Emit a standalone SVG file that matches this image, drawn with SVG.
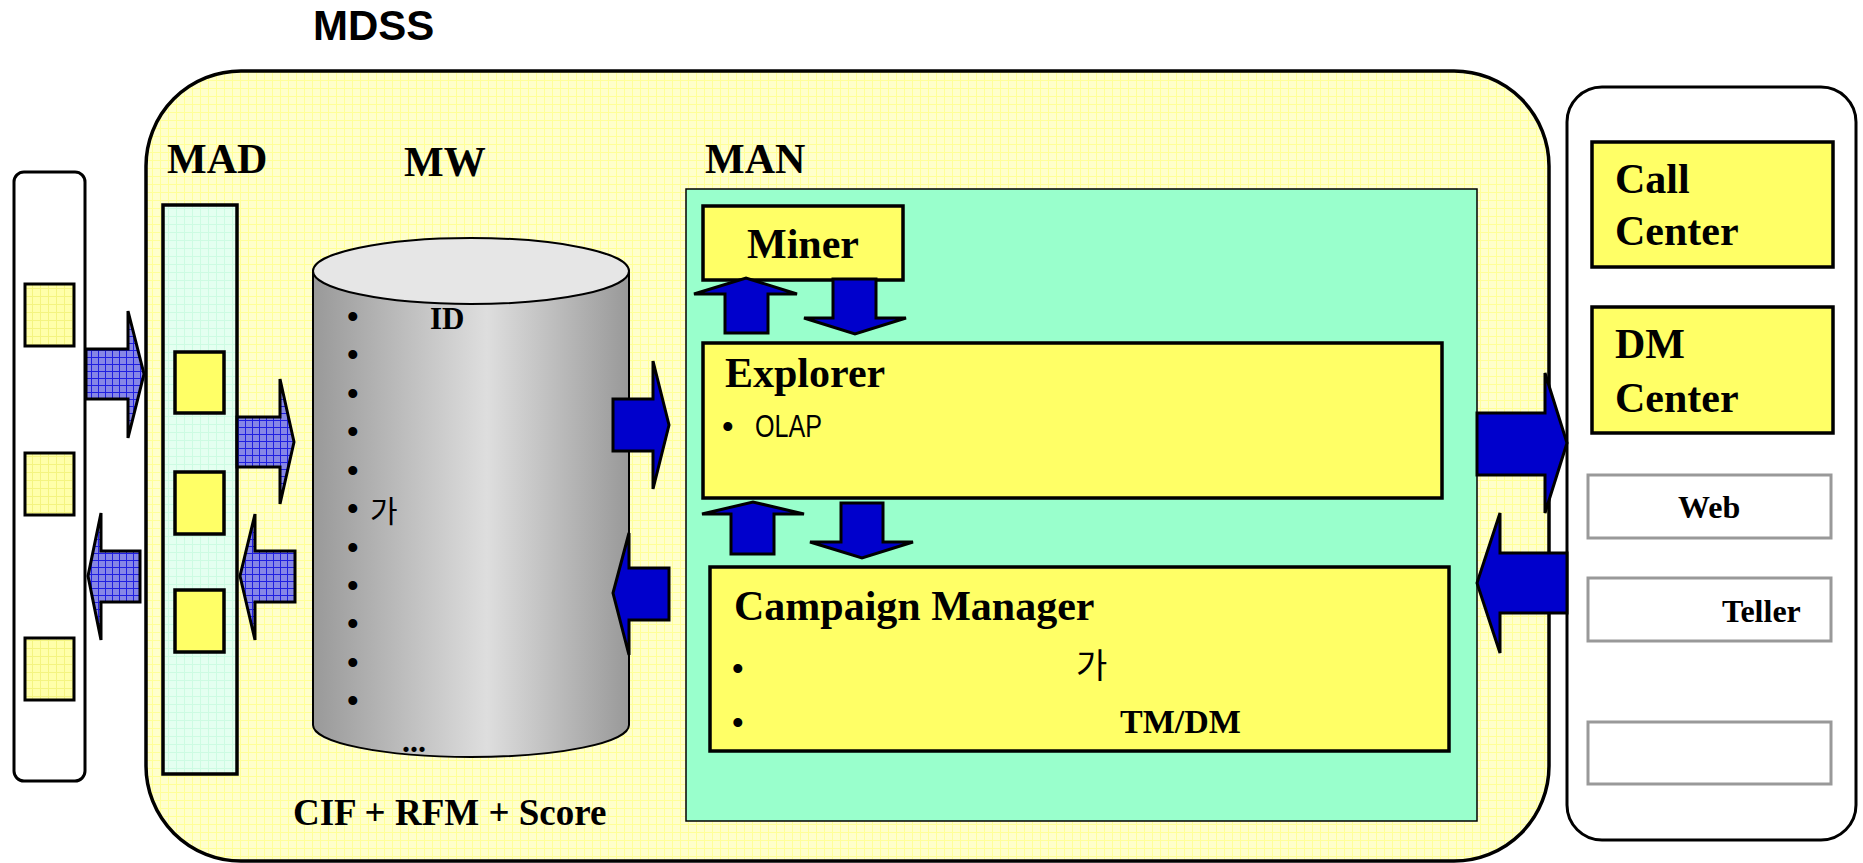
<svg xmlns="http://www.w3.org/2000/svg" width="1863" height="863" viewBox="0 0 1863 863">
  <style>
    .title { font-family: "Liberation Sans", Arial, sans-serif; font-weight: bold; fill: #000; }
    .lbl { font-family: "Liberation Serif", "Times New Roman", serif; font-weight: bold; fill: #000; }
    .kr { font-family: "Liberation Sans", "Noto Sans CJK KR", sans-serif; fill: #000; }
    .bul { font-family: "Liberation Sans", Arial, sans-serif; fill: #000; font-size: 33px; }
    .box { fill: #ffff66; stroke: #000; stroke-width: 3.5; }
    .slot { fill: #fff; stroke: #999; stroke-width: 3; }
    .blue { fill: #0000cc; stroke: #000; stroke-width: 3; stroke-linejoin: miter; }
    .hatch { fill: url(#hatchBlue); stroke: #000; stroke-width: 3; }
  </style>
  <defs>
    <pattern id="gridYellow" width="8" height="8" patternUnits="userSpaceOnUse">
      <rect width="8" height="8" fill="#ffffcc"/>
      <path d="M0 0.5H8M0.5 0V8" stroke="#ffff99" stroke-width="1"/>
    </pattern>
    <pattern id="gridMint" width="8" height="8" patternUnits="userSpaceOnUse">
      <rect width="8" height="8" fill="#e4fff0"/>
      <path d="M0 0.5H8M0.5 0V8" stroke="#cdfbe2" stroke-width="1"/>
    </pattern>
    <pattern id="gridPale" width="8" height="8" patternUnits="userSpaceOnUse">
      <rect width="8" height="8" fill="#ffffaa"/>
      <path d="M0 0.5H8M0.5 0V8" stroke="#f4f480" stroke-width="1"/>
    </pattern>
    <pattern id="hatchBlue" width="7" height="7" patternUnits="userSpaceOnUse">
      <rect width="7" height="7" fill="#8686e6"/>
      <path d="M0 0.5H7M0.5 0V7" stroke="#1f1fe0" stroke-width="1"/>
    </pattern>
    <linearGradient id="cylShade" x1="0" y1="0" x2="1" y2="0">
      <stop offset="0" stop-color="#999999"/>
      <stop offset="0.55" stop-color="#dedede"/>
      <stop offset="1" stop-color="#999999"/>
    </linearGradient>
  </defs>

  <rect width="1863" height="863" fill="#fff"/>

  <text class="title" x="313" y="40" font-size="42">MDSS</text>

  <!-- MDSS frame -->
  <g id="mdss">
    <rect x="146" y="71" width="1403" height="790" rx="95" ry="95" fill="url(#gridYellow)" stroke="#000" stroke-width="3.5"/>
    <text class="lbl" x="167" y="173" font-size="42">MAD</text>
    <text class="lbl" x="404" y="176" font-size="42">MW</text>
    <text class="lbl" x="705" y="173" font-size="42">MAN</text>
    <text class="lbl" x="293" y="825" font-size="37">CIF + RFM + Score</text>
  </g>

  <!-- source systems (left) -->
  <g id="sources">
    <rect x="14" y="172" width="71" height="609" rx="10" ry="10" fill="#fff" stroke="#000" stroke-width="3"/>
    <rect x="25" y="284" width="49" height="62" fill="url(#gridPale)" stroke="#000" stroke-width="3"/>
    <rect x="25" y="453" width="49" height="62" fill="url(#gridPale)" stroke="#000" stroke-width="3"/>
    <rect x="25" y="638" width="49" height="62" fill="url(#gridPale)" stroke="#000" stroke-width="3"/>
  </g>

  <!-- MAD column -->
  <g id="mad">
    <rect x="163" y="205" width="74" height="569" fill="url(#gridMint)" stroke="#000" stroke-width="3.5"/>
    <rect x="175" y="352" width="49" height="61" class="box" stroke-width="3"/>
    <rect x="175" y="472" width="49" height="62" class="box" stroke-width="3"/>
    <rect x="175" y="590" width="49" height="62" class="box" stroke-width="3"/>
  </g>

  <!-- MW warehouse cylinder -->
  <g id="mw">
    <path d="M313 271 V725 A158 32 0 0 0 629 725 V271 Z" fill="url(#cylShade)" stroke="#000" stroke-width="2"/>
    <ellipse cx="471" cy="271" rx="158" ry="33" fill="#e6e6e6" stroke="#000" stroke-width="2"/>
    <text class="lbl" x="430" y="329" font-size="31">ID</text>
    <text class="bul" x="347" y="328">•</text>
    <text class="bul" x="347" y="366">•</text>
    <text class="bul" x="347" y="405">•</text>
    <text class="bul" x="347" y="443">•</text>
    <text class="bul" x="347" y="482">•</text>
    <text class="bul" x="347" y="520">•</text>
    <text class="kr" x="370" y="522" font-size="30">가</text>
    <text class="bul" x="347" y="559">•</text>
    <text class="bul" x="347" y="597">•</text>
    <text class="bul" x="347" y="635">•</text>
    <text class="bul" x="347" y="674">•</text>
    <text class="bul" x="347" y="712">•</text>
    <text class="lbl" x="402" y="752" font-size="32">...</text>
  </g>

  <!-- MAN analysis area -->
  <g id="man">
    <rect x="686" y="189" width="791" height="632" fill="#99ffcc" stroke="#000" stroke-width="1.5"/>
  </g>

  <g id="miner">
    <rect x="703" y="206" width="200" height="74" class="box"/>
    <text class="lbl" x="747" y="258" font-size="42">Miner</text>
  </g>

  <g id="explorer">
    <rect x="703" y="343" width="739" height="155" class="box"/>
    <text class="lbl" x="725" y="387" font-size="42">Explorer</text>
    <text class="bul" x="722" y="438">•</text>
    <text class="kr" x="755" y="437" font-size="32" textLength="67" lengthAdjust="spacingAndGlyphs">OLAP</text>
  </g>

  <g id="campaign">
    <rect x="710" y="567" width="739" height="184" class="box"/>
    <text class="lbl" x="734" y="620" font-size="42">Campaign Manager</text>
    <text class="bul" x="732" y="680">•</text>
    <text class="kr" x="1076" y="678" font-size="34">가</text>
    <text class="bul" x="732" y="734">•</text>
    <text class="lbl" x="1120" y="733" font-size="34">TM/DM</text>
  </g>

  <!-- channels (right) -->
  <g id="channels">
    <rect x="1567" y="87" width="289" height="753" rx="35" ry="35" fill="#fff" stroke="#000" stroke-width="3"/>
  </g>
  <g id="callcenter">
    <rect x="1592" y="142" width="241" height="125" class="box"/>
    <text class="lbl" x="1615" y="193" font-size="42">Call</text>
    <text class="lbl" x="1615" y="245" font-size="42">Center</text>
  </g>
  <g id="dmcenter">
    <rect x="1592" y="307" width="241" height="126" class="box"/>
    <text class="lbl" x="1615" y="358" font-size="42">DM</text>
    <text class="lbl" x="1615" y="412" font-size="42">Center</text>
  </g>
  <g id="web">
    <rect x="1588" y="475" width="243" height="63" class="slot"/>
    <text class="lbl" x="1678" y="518" font-size="32">Web</text>
  </g>
  <g id="teller">
    <rect x="1588" y="578" width="243" height="63" class="slot"/>
    <text class="lbl" x="1722" y="622" font-size="32">Teller</text>
  </g>
  <g id="other">
    <rect x="1588" y="722" width="243" height="62" class="slot"/>
  </g>

  <!-- block arrows between components -->
  <g id="connectors">
    <path class="hatch" d="M86 349 H128 V311 L144 374 L128 438 V399 H86 Z"/>
    <path class="hatch" d="M140 551 H101 V513 L88 576 L101 640 V602 H140 Z"/>
    <path class="hatch" d="M237 417 H280 V379 L294 442 L280 504 V467 H237 Z"/>
    <path class="hatch" d="M295 551 H255 V514 L240 576 L255 640 V602 H295 Z"/>

    <path class="blue" d="M613 399 H653 V361 L669 425 L653 489 V451 H613 Z"/>
    <path class="blue" d="M669 568 H629 V533 L613 593 L629 655 V620 H669 Z"/>

    <path class="blue" d="M725 333 V294 H694 L746 278 L797 294 H768 V333 Z"/>
    <path class="blue" d="M833 279 V318 H804 L855 334 L906 318 H876 V279 Z"/>
    <path class="blue" d="M731 554 V514 H702 L753 502 L804 514 H774 V554 Z"/>
    <path class="blue" d="M841 503 V542 H810 L862 558 L913 542 H883 V503 Z"/>

    <path class="blue" d="M1477 413 H1545 V373 L1567 443 L1545 513 V475 H1477 Z"/>
    <path class="blue" d="M1567 553 H1500 V513 L1477 583 L1500 653 V613 H1567 Z"/>
  </g>
</svg>
